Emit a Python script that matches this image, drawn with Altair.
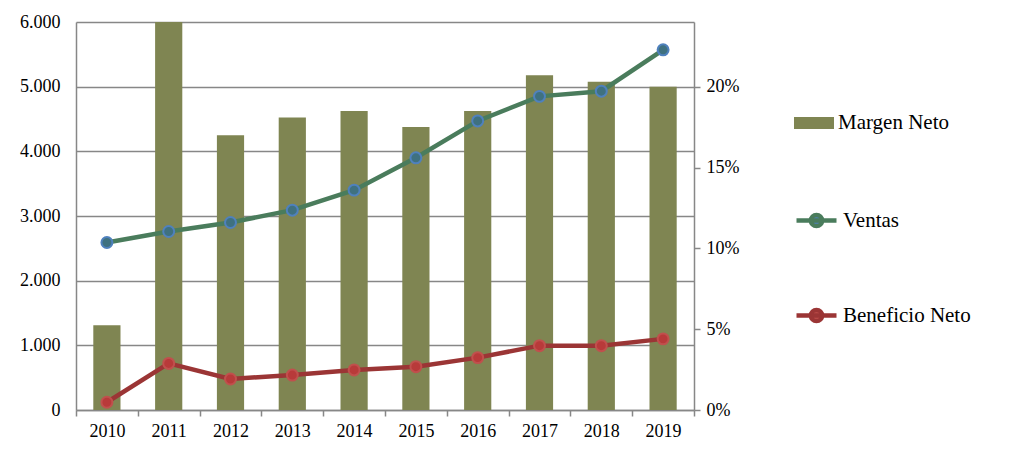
import altair as alt
import pandas as pd

years = ["2010", "2011", "2012", "2013", "2014", "2015", "2016", "2017", "2018", "2019"]
ventas = [2590, 2760, 2900, 3090, 3400, 3900, 4470, 4850, 4930, 5570]
beneficio = [120, 720, 480, 540, 620, 670, 810, 995, 995, 1100]
margen = [0.0525, 0.262, 0.170, 0.181, 0.185, 0.175, 0.185, 0.207, 0.203, 0.200]
left_ticks = [0, 1000, 2000, 3000, 4000, 5000, 6000]
right_ticks = [0, 0.05, 0.10, 0.15, 0.20]

df = pd.DataFrame({"year": years, "ventas": ventas, "beneficio": beneficio, "margen": margen})

FONT = "Liberation Serif"
GRAY = "#878787"
BAR = "#7F8552"
V_LINE = "#4A7C5C"
V_FILL = "#3F7180"
V_RING = "#4F81BD"
B_LINE = "#9B3535"
B_FILL = "#B83A3A"
B_RING = "#C0504D"

bar_sym = "M-1,-0.3H1V0.3H-1Z"
line_sym = "M-1,0H1M-0.28,0A0.28,0.28,0,1,1,0.28,0A0.28,0.28,0,1,1,-0.28,0Z"

x = alt.X(
    "year:O", title=None,
    scale=alt.Scale(paddingInner=0, paddingOuter=0),
    axis=alt.Axis(tickBand="extent", labelAngle=0, domainColor=GRAY, tickColor=GRAY,
                  tickSize=6, tickWidth=1.5, domainWidth=1.5, labelPadding=6),
)


def legend(y, sym, stroke_w=0, fill=None):
    kw = dict(orient="none", legendX=718, legendY=y, title=None, labelFont=FONT,
              labelFontSize=21, labelColor="black", symbolType=sym, symbolSize=1600,
              padding=0, labelOffset=4, symbolStrokeWidth=stroke_w)
    if fill:
        kw["symbolFillColor"] = fill
    return alt.Legend(**kw)


bars = alt.Chart(df).transform_calculate(lab="'Margen Neto'").mark_bar(
    clip=True, width=alt.RelativeBandSize(0.44)
).encode(
    x=x,
    y=alt.Y("margen:Q", title=None, scale=alt.Scale(domain=[0, 0.24], nice=False),
            axis=alt.Axis(orient="right", format=".0%", values=right_ticks, grid=False,
                          domainColor=GRAY, domainWidth=1.5, tickColor=GRAY, tickWidth=1.5,
                          tickSize=6, labelPadding=6)),
    color=alt.Color("lab:N", scale=alt.Scale(domain=["Margen Neto"], range=[BAR]),
                    legend=legend(81, bar_sym)),
)

left_axis = alt.Axis(orient="left", values=left_ticks,
                     labelExpr="replace(format(datum.value, ','), ',', '.')",
                     grid=True, gridColor=GRAY, gridWidth=1.5, ticks=False,
                     domainColor=GRAY, domainWidth=1.5, labelPadding=16)
yscale = alt.Scale(domain=[0, 6000], nice=False)

v_line = alt.Chart(df).transform_calculate(lab="'Ventas'").mark_line(strokeWidth=4.5).encode(
    x=x,
    y=alt.Y("ventas:Q", title=None, scale=yscale, axis=left_axis),
    color=alt.Color("lab:N", scale=alt.Scale(domain=["Ventas"], range=[V_LINE]),
                    legend=legend(176, line_sym, 4.5, V_RING)),
)
v_pts = alt.Chart(df).mark_circle(size=120, color=V_FILL, stroke=V_RING, strokeWidth=2, opacity=1).encode(
    x=x, y=alt.Y("ventas:Q", title=None, scale=yscale, axis=left_axis)
)
b_line = alt.Chart(df).transform_calculate(lab="'Beneficio Neto'").mark_line(strokeWidth=4.5).encode(
    x=x,
    y=alt.Y("beneficio:Q", title=None, scale=yscale, axis=left_axis),
    color=alt.Color("lab:N", scale=alt.Scale(domain=["Beneficio Neto"], range=[B_LINE]),
                    legend=legend(271, line_sym, 4.5, B_RING)),
)
b_pts = alt.Chart(df).mark_circle(size=120, color=B_FILL, stroke=B_RING, strokeWidth=2, opacity=1).encode(
    x=x, y=alt.Y("beneficio:Q", title=None, scale=yscale, axis=left_axis)
)

lines = alt.layer(v_line, v_pts, b_line, b_pts).resolve_scale(color="independent")

chart = alt.layer(bars, lines).resolve_scale(y="independent", color="independent").properties(
    width=618, height=388,
    autosize=alt.AutoSizeParams(type="none"),
    padding={"left": 68, "top": 14, "right": 318, "bottom": 31},
    background="white",
).configure_view(stroke=None).configure_axis(
    labelFont=FONT, labelFontSize=18, labelColor="black"
)

chart.save("out.html", embed_options={"renderer": "svg", "actions": False})
